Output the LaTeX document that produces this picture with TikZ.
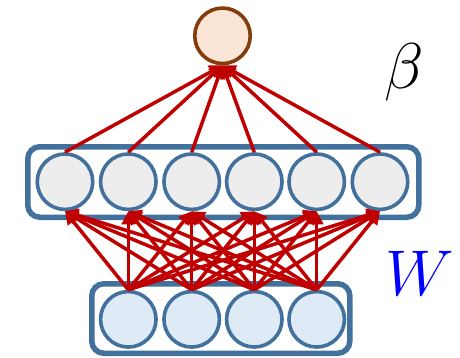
\documentclass[tikz,border=0pt]{standalone}
\usetikzlibrary{arrows.meta}
\definecolor{topfill}{HTML}{FBE5D6}
\definecolor{topdraw}{HTML}{843C0C}
\definecolor{midfill}{HTML}{EDEDED}
\definecolor{botfill}{HTML}{DEEBF7}
\definecolor{bluedraw}{HTML}{41719C}
\definecolor{arrred}{HTML}{C00000}
\begin{document}
\begin{tikzpicture}[x=1pt,y=-1pt,
  neuron/.style={circle,inner sep=0pt,minimum size=55.5pt,line width=3.6pt},
  topneuron/.style={neuron,draw=topdraw,fill=topfill},
  midneuron/.style={neuron,draw=bluedraw,fill=midfill},
  botneuron/.style={neuron,draw=bluedraw,fill=botfill},
  layerbox/.style={rectangle,draw=bluedraw,line width=5.5pt,rounded corners=12pt,inner sep=0pt},
  conn/.style={draw=arrred,line width=3.5pt,-{Triangle[length=13pt,width=13pt]}},
  biglabel/.style={inner sep=0pt}
]
\useasboundingbox (0,0) rectangle (460,357);
\node[layerbox,minimum width=391pt,minimum height=70.5pt] (midbox) at (223.3,182) {};
\node[layerbox,minimum width=258pt,minimum height=69.5pt] (botbox) at (220.8,318.5) {};
\node[topneuron] (top) at (222.5,35.8) {};
\foreach \i/\x in {1/65,2/128.3,3/191.7,4/254.3,5/316.7,6/380}
  \node[midneuron] (m\i) at (\x,181.7) {};
\foreach \j/\x in {1/128.3,2/191.7,3/254.3,4/316.7}
  \node[botneuron] (b\j) at (\x,319.3) {};
\foreach \i in {1,...,6}
  \draw[conn] (m\i.north) -- (top.south);
\foreach \j in {1,...,4}
  \foreach \i in {1,...,6}
    \draw[conn] (b\j.north) -- (m\i.south);
\node[biglabel] (beta) at (404,72) {\scalebox{2.6}{\Huge$\beta$}};
\node[biglabel,text=blue] (w) at (420,273) {\scalebox{2.6}{\Huge$W$}};
\end{tikzpicture}
\end{document}
